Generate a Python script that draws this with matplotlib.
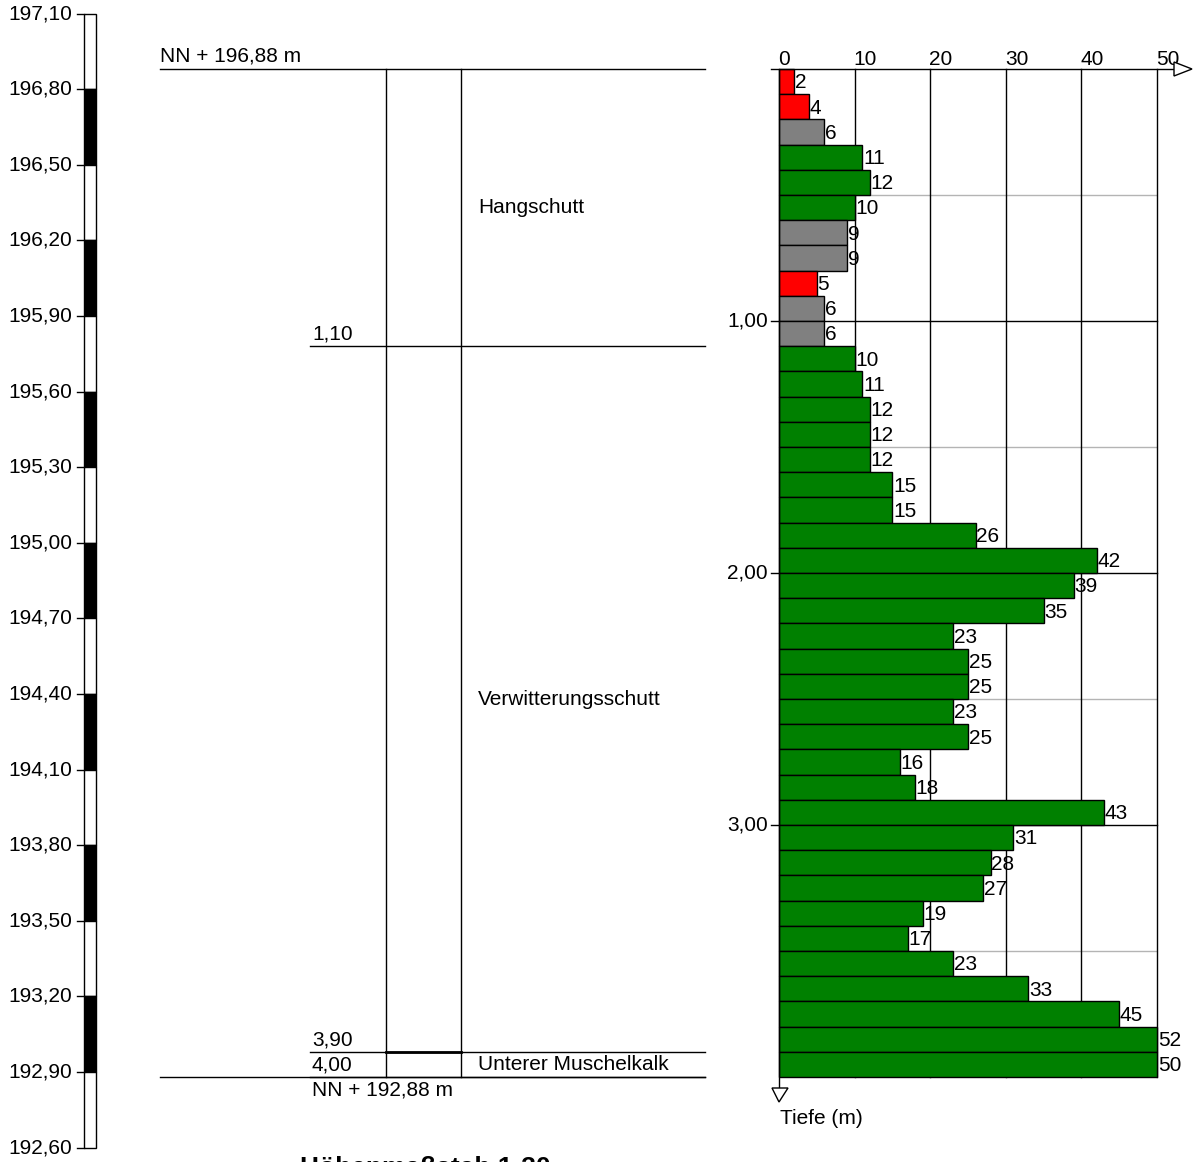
import matplotlib

matplotlib.use("Agg")
import matplotlib.pyplot as plt
from matplotlib.patches import Polygon, Rectangle

plt.rcParams["font.family"] = ["Liberation Sans", "DejaVu Sans"]

# data
top_elev = 196.88
bottom_depth = 4.00
scale_ticks = [197.10, 196.80, 196.50, 196.20, 195.90, 195.60, 195.30, 195.00,
               194.70, 194.40, 194.10, 193.80, 193.50, 193.20, 192.90, 192.60]
layer_bottoms = [1.10, 3.90, 4.00]
layer_names = ["Hangschutt", "Verwitterungsschutt", "Unterer Muschelkalk"]
bar_tops = [round(0.1 * i, 1) for i in range(40)]
blows = [2, 4, 6, 11, 12, 10, 9, 9, 5, 6,
         6, 10, 11, 12, 12, 12, 15, 15, 26, 42,
         39, 35, 23, 25, 25, 23, 25, 16, 18, 43,
         31, 28, 27, 19, 17, 23, 33, 45, 52, 50]
x_ticks = [0, 10, 20, 30, 40, 50]
depth_ticks = [1.00, 2.00, 3.00]
half_ticks = [0.5, 1.5, 2.5, 3.5]

W, H = 1199, 1162
PX0, PXM = 69.0, 252.0  # pixel row of depth 0, pixels per metre
FS = 15


def depth(elev):
    return top_elev - elev


def de(s):
    return f"{s:.2f}".replace(".", ",")


fig = plt.figure(figsize=(W / 100, H / 100), dpi=100)
ylim = ((H - PX0) / PXM, -PX0 / PXM)

ax = fig.add_axes([0, 0, 1, 1])
ax.set_xlim(0, W)
ax.set_ylim(*ylim)
ax.axis("off")

# elevation scale bar
for i in range(len(scale_ticks) - 1):
    d0, d1 = depth(scale_ticks[i]), depth(scale_ticks[i + 1])
    ax.add_patch(Rectangle((84, d0), 12, d1 - d0, facecolor="black" if i % 2 else "white",
                           edgecolor="black", lw=1.0))
for t in scale_ticks:
    ax.plot([77, 84], [depth(t)] * 2, color="black", lw=1.0)
    ax.text(72, depth(t), de(t), ha="right", va="center", fontsize=FS)

# soil log column
ax.plot([160, 705], [0, 0], color="black", lw=1.0)
ax.plot([160, 705], [bottom_depth] * 2, color="black", lw=1.0)
ax.text(160, -0.015, f"NN + {de(top_elev)} m", ha="left", va="bottom", fontsize=FS)
ax.text(312, bottom_depth + 0.015, f"NN + {de(top_elev - bottom_depth)} m", ha="left", va="top",
        fontsize=FS)
for xc in (386, 461):
    ax.plot([xc, xc], [0, bottom_depth], color="black", lw=1.0)
prev = 0.0
for b, name in zip(layer_bottoms, layer_names):
    ax.plot([310, 705], [b, b], color="black", lw=1.0)
    ax.text(312, b - 0.01, de(b), ha="left", va="bottom", fontsize=FS)
    ax.text(478, (prev + b) / 2, name, ha="left", va="center", fontsize=FS)
    prev = b
ax.plot([386, 461], [layer_bottoms[1]] * 2, color="black", lw=2.0)

ax.text(300, (1156 - PX0) / PXM, "Höhenmaßstab 1:30", ha="left", va="top", fontsize=19,
        fontweight="bold")

# penetration bar chart
x0px, x50px = 779, 1157
axb = fig.add_axes([x0px / W, 0, (x50px - x0px) / W, 1])
axb.set_xlim(0, 50)
axb.set_ylim(*ylim)
axb.axis("off")
ppu = (x50px - x0px) / 50.0


def px(p):
    return (p - x0px) / ppu


for h in half_ticks:
    axb.plot([0, 50], [h, h], color="#b4b4b4", lw=1.0, zorder=1)
for d in depth_ticks:
    axb.plot([px(771), 50], [d, d], color="black", lw=1.0, zorder=1, clip_on=False)
    axb.text(px(768), d, de(d), ha="right", va="center", fontsize=FS)
for t in x_ticks[1:]:
    axb.plot([t, t], [0, bottom_depth], color="black", lw=1.0, zorder=1, clip_on=False)

colors = ["#ff0000" if v <= 5 else "#808080" if v < 10 else "#008000" for v in blows]
vals = [min(v, 50) for v in blows]
axb.barh([t + 0.05 for t in bar_tops], vals, height=0.1, color=colors, edgecolor="black",
         lw=1.0, zorder=2, clip_on=False)
for t, v, lab in zip(bar_tops, vals, blows):
    axb.text(v + 0.1, t + 0.055, str(lab), ha="left", va="center", fontsize=FS, zorder=3,
             clip_on=False)

# axes with hollow arrows
axb.plot([px(771), px(1175)], [0, 0], color="black", lw=1.0, zorder=3, clip_on=False)
axb.plot([0, 0], [0, (1088 - PX0) / PXM], color="black", lw=1.0, zorder=3, clip_on=False)
axb.add_patch(Polygon([(px(1174), -7 / PXM), (px(1192), 0), (px(1174), 7 / PXM)], closed=True,
                      facecolor="white", edgecolor="black", lw=1.0, zorder=3, clip_on=False))
axb.add_patch(Polygon([(px(772), (1088 - PX0) / PXM), (px(788), (1088 - PX0) / PXM),
                       (0, (1102 - PX0) / PXM)], closed=True, facecolor="white",
                      edgecolor="black", lw=1.0, zorder=3, clip_on=False))
for t in x_ticks:
    axb.text(t - 0.1, 0.0, str(t), ha="left", va="bottom", fontsize=FS, zorder=2)
axb.text(px(780), (1118 - PX0) / PXM, "Tiefe (m)", ha="left", va="center", fontsize=FS)

fig.savefig("out.png", dpi=100)
